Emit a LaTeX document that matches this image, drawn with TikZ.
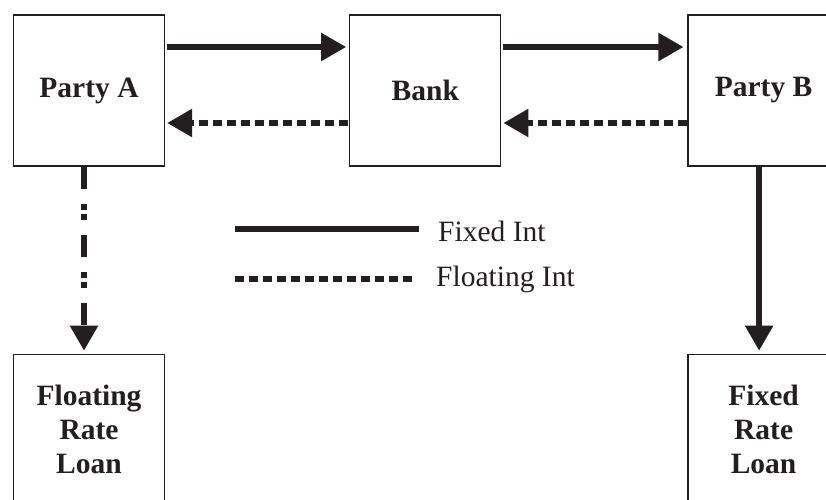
\documentclass[tikz,border=0pt]{standalone}
\usepackage{fontspec}
\setmainfont{Liberation Serif}
\usetikzlibrary{arrows.meta, positioning}
\definecolor{ink}{HTML}{231F20}

\begin{document}
\begin{tikzpicture}[
  x=1pt, y=-1pt,
  node distance=184pt,
  box/.style={rectangle, draw=ink, line width=1.3pt, text=ink,
              minimum width=151pt, minimum height=151pt, align=center,
              font=\fontsize{29.5}{34}\selectfont\bfseries},
  keytext/.style={anchor=base west, inner sep=0pt, text=ink,
                  font=\fontsize{29.5}{34}\selectfont},
  fixed/.style={ink, line width=5.5pt, -{Triangle[length=25pt, width=27pt]}},
  floating/.style={fixed, dash pattern=on 9pt off 5pt},
  loanfloat/.style={fixed, dash pattern=on 22pt off 15pt on 6pt off 4pt on 6pt off 15pt},
]
  \useasboundingbox (0,0) rectangle (826,499);
  \clip (0,0) rectangle (826,499);

  \node[box] (pa) at (89,90.5) {Party A};
  \node[box, right=184pt of pa] (bank) {Bank};
  \node[box, right=186pt of bank] (pb) {Party B};
  \node[box, below=187pt of pa] (fl) {Floating\\Rate\\Loan};
  \node[box, below=187pt of pb] (fx) {Fixed\\Rate\\Loan};

  % fixed interest
  \draw[fixed, shorten <=2pt, shorten >=3pt] ([yshift=43.5pt]pa.east) -- ([yshift=43.5pt]bank.west);
  \draw[fixed, shorten <=2pt, shorten >=4pt] ([yshift=43.5pt]bank.east) -- ([yshift=43.5pt]pb.west);
  \draw[fixed, shorten >=3pt] ([xshift=-4.5pt]pb.south) -- ([xshift=-4.5pt]fx.north);

  % floating interest
  \draw[floating, shorten <=1pt, shorten >=2pt] ([yshift=-32.5pt]bank.west) -- ([yshift=-32.5pt]pa.east);
  \draw[floating, shorten >=2pt] ([yshift=-32.5pt]pb.west) -- ([yshift=-32.5pt]bank.east);
  \draw[loanfloat, shorten >=3pt] ([xshift=-5pt]pa.south) -- ([xshift=-5pt]fl.north);

  % key
  \node[keytext] (fixtxt) at (438,241) {Fixed Int};
  \node[keytext] (flttxt) at (436,286) {Floating Int};
  \coordinate (fixA) at (235,229);
  \coordinate (fixB) at (419,229);
  \coordinate (fltA) at (235,279);
  \coordinate (fltB) at (415,279);
  \draw[ink, line width=5.5pt] (fixA) -- (fixB);
  \draw[ink, line width=5.5pt, dash pattern=on 9pt off 5pt] (fltA) -- (fltB);
\end{tikzpicture}
\end{document}
